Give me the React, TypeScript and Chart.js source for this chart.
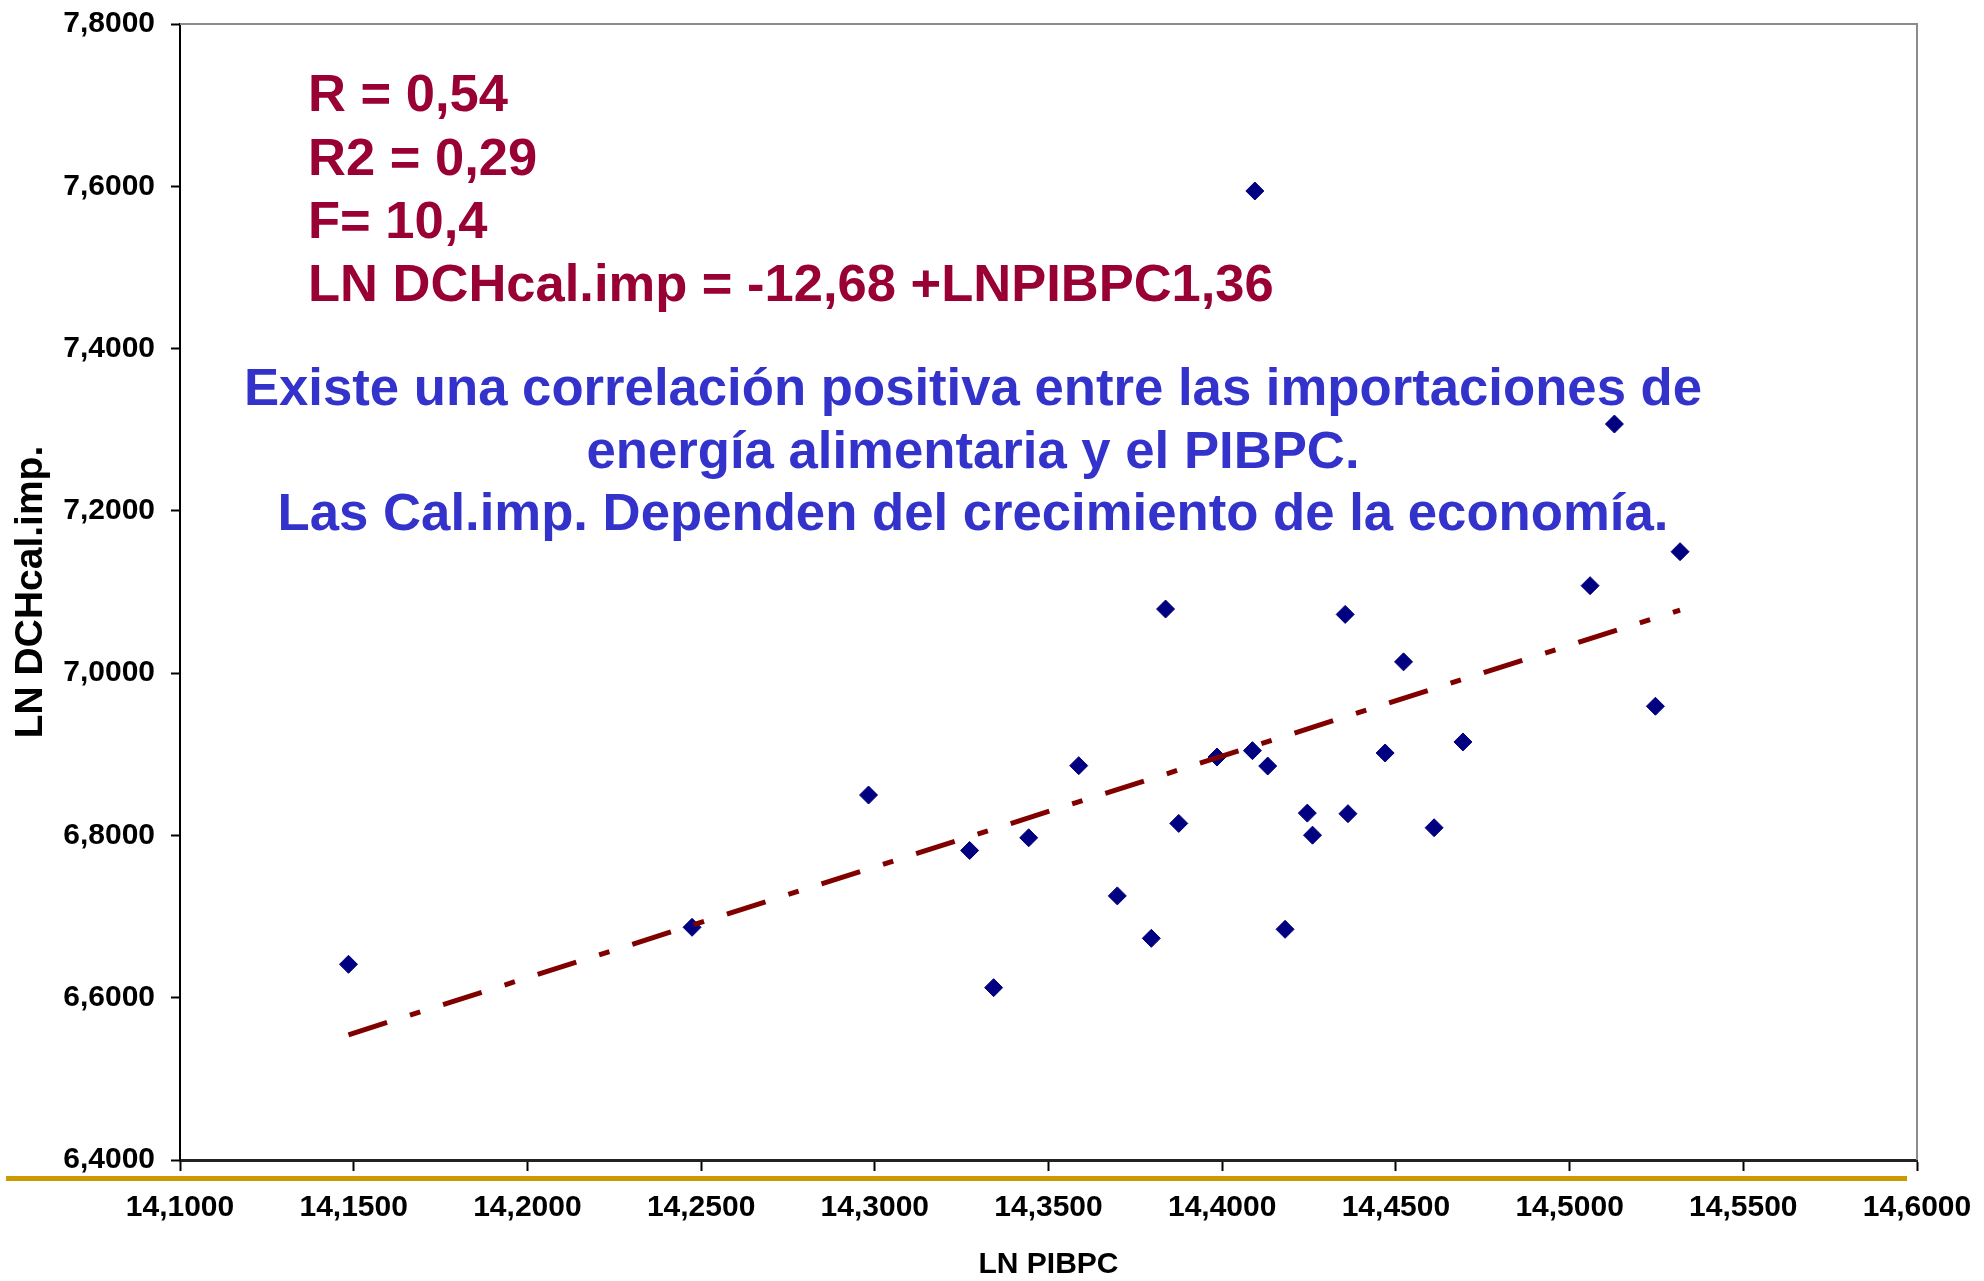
import React, { useEffect, useRef } from 'react';
import { Chart, registerables } from 'chart.js';

Chart.register(...registerables);

// LN PIBPC (x) and LN DCHcal.imp. (y)
const lnPibpc = [
  14.1485, 14.2474, 14.2982, 14.3273, 14.3342, 14.3443, 14.3587, 14.3698,
  14.3796, 14.3837, 14.3875, 14.3985, 14.4094, 14.4087, 14.4131, 14.4181,
  14.4245, 14.426, 14.4354, 14.4362, 14.4469, 14.4522, 14.461, 14.4693,
  14.5059, 14.5129, 14.5247, 14.5318,
];
const lnDchCalImp = [
  6.6412, 6.6868, 6.8498, 6.7815, 6.6124, 6.7971, 6.886, 6.7255,
  6.6732, 7.079, 6.8148, 6.8966, 7.5942, 6.9045, 6.8855, 6.6843,
  6.8275, 6.8003, 7.0724, 6.8268, 6.9016, 7.0139, 6.8095, 6.9152,
  7.1078, 7.307, 6.9592, 7.1497,
];

// Linear trend line end points as drawn in the reference
const trendX = [14.1485, 14.5318];
const trendY = [6.5543, 7.0778];

const xMin = 14.1;
const xMax = 14.6;
const xStep = 0.05;
const yMin = 6.4;
const yMax = 7.8;
const yStep = 0.2;

const xTitle = 'LN PIBPC';
const yTitle = 'LN DCHcal.imp.';

const statsLines = [
  'R = 0,54',
  'R2 = 0,29',
  'F= 10,4',
  'LN DCHcal.imp = -12,68 +LNPIBPC1,36',
];
const noteLines = [
  'Existe una correlación positiva entre las importaciones de',
  'energía alimentaria y el PIBPC.',
  'Las Cal.imp. Dependen del crecimiento de la economía.',
];

const FONT = '"Liberation Sans", Arial, sans-serif';
const fmt = (v: number) => v.toFixed(4).replace('.', ',');

const decorPlugin = {
  id: 'decor',
  beforeDatasetsDraw(chart: any) {
    const ctx = chart.ctx as CanvasRenderingContext2D;
    ctx.save();
    // statistics (dark red)
    ctx.fillStyle = '#990033';
    ctx.font = `bold 52.5px ${FONT}`;
    ctx.textAlign = 'left';
    ctx.textBaseline = 'alphabetic';
    const sBase = [111, 175, 238, 301];
    statsLines.forEach((t, i) => ctx.fillText(t, 308, sBase[i]));
    // conclusion (blue)
    ctx.fillStyle = '#3333CC';
    ctx.font = `bold 52.7px ${FONT}`;
    ctx.textAlign = 'center';
    const nBase = [405, 468, 530];
    noteLines.forEach((t, i) => ctx.fillText(t, 973, nBase[i]));
    ctx.restore();
  },
  afterDraw(chart: any) {
    const ctx = chart.ctx as CanvasRenderingContext2D;
    const a = chart.chartArea;
    ctx.save();
    // gray top and right frame
    ctx.strokeStyle = '#8c8c8c';
    ctx.lineWidth = 2;
    ctx.beginPath();
    ctx.moveTo(a.left, a.top);
    ctx.lineTo(a.right, a.top);
    ctx.lineTo(a.right, a.bottom);
    ctx.stroke();
    // gold rule under the axis
    ctx.strokeStyle = '#CC9900';
    ctx.lineWidth = 5;
    ctx.beginPath();
    ctx.moveTo(6, 1178.5);
    ctx.lineTo(1907, 1178.5);
    ctx.stroke();
    ctx.restore();
  },
};

const zeroPadding = (s: any) => {
  s.paddingTop = 0;
  s.paddingBottom = 0;
  s.paddingLeft = 0;
  s.paddingRight = 0;
};

export default function App() {
  const ref = useRef<HTMLCanvasElement | null>(null);

  useEffect(() => {
    document.body.style.margin = '0';
    const canvas = ref.current!;
    const chart = new Chart(canvas, {
      type: 'scatter',
      data: {
        datasets: [
          {
            type: 'line',
            label: 'Tendencia',
            data: trendX.map((x, i) => ({ x, y: trendY[i] })),
            borderColor: '#800000',
            borderWidth: 5,
            borderDash: [40.5, 24, 10.8, 24],
            borderCapStyle: 'butt',
            pointRadius: 0,
            fill: false,
            order: 0,
          } as any,
          {
            label: 'LN DCHcal.imp.',
            data: lnPibpc.map((x, i) => ({ x, y: lnDchCalImp[i] })),
            pointStyle: 'rectRot',
            pointRadius: 9,
            pointBackgroundColor: '#000080',
            pointBorderColor: '#000080',
            pointBorderWidth: 1,
            order: 1,
          },
        ],
      },
      options: {
        animation: false,
        responsive: false,
        devicePixelRatio: 1,
        layout: { autoPadding: false, padding: { left: 0, top: 24, right: 67, bottom: 0 } },
        plugins: {
          legend: { display: false },
          tooltip: { enabled: false },
        },
        scales: {
          x: {
            type: 'linear',
            min: xMin,
            max: xMax,
            ticks: {
              stepSize: xStep,
              callback: (v: any) => fmt(Number(v)),
              color: '#000',
              font: { family: FONT, size: 30, weight: 'bold' },
              padding: 19,
              maxRotation: 0,
              autoSkip: false,
            },
            grid: {
              drawOnChartArea: false,
              drawTicks: true,
              tickLength: 11,
              tickColor: '#000',
              tickWidth: 2,
            },
            border: { color: '#222', width: 3 },
            title: {
              display: true,
              text: xTitle,
              color: '#000',
              font: { family: FONT, size: 30, weight: 'bold', lineHeight: 1 },
              padding: { top: 0, bottom: 1 },
            },
            afterFit: (s: any) => {
              s.height = 121;
              zeroPadding(s);
            },
          },
          y: {
            type: 'linear',
            min: yMin,
            max: yMax,
            ticks: {
              stepSize: yStep,
              callback: (v: any) => fmt(Number(v)),
              color: '#000',
              font: { family: FONT, size: 30, weight: 'bold' },
              padding: 16,
            },
            grid: {
              drawOnChartArea: false,
              drawTicks: true,
              tickLength: 9,
              tickColor: '#000',
              tickWidth: 2,
            },
            border: { color: '#000', width: 2 },
            title: {
              display: true,
              text: yTitle,
              color: '#000',
              font: { family: FONT, size: 39, weight: 'bold', lineHeight: 1 },
              padding: { top: 12, bottom: 0 },
            },
            afterFit: (s: any) => {
              s.width = 180;
              zeroPadding(s);
            },
          },
        },
      },
      plugins: [decorPlugin],
    } as any);
    return () => chart.destroy();
  }, []);

  return (
    <div style={{ position: 'fixed', left: 0, top: 0, width: 1984, height: 1281, background: '#fff' }}>
      <canvas ref={ref} width={1984} height={1281} style={{ width: 1984, height: 1281, display: 'block' }} />
    </div>
  );
}
